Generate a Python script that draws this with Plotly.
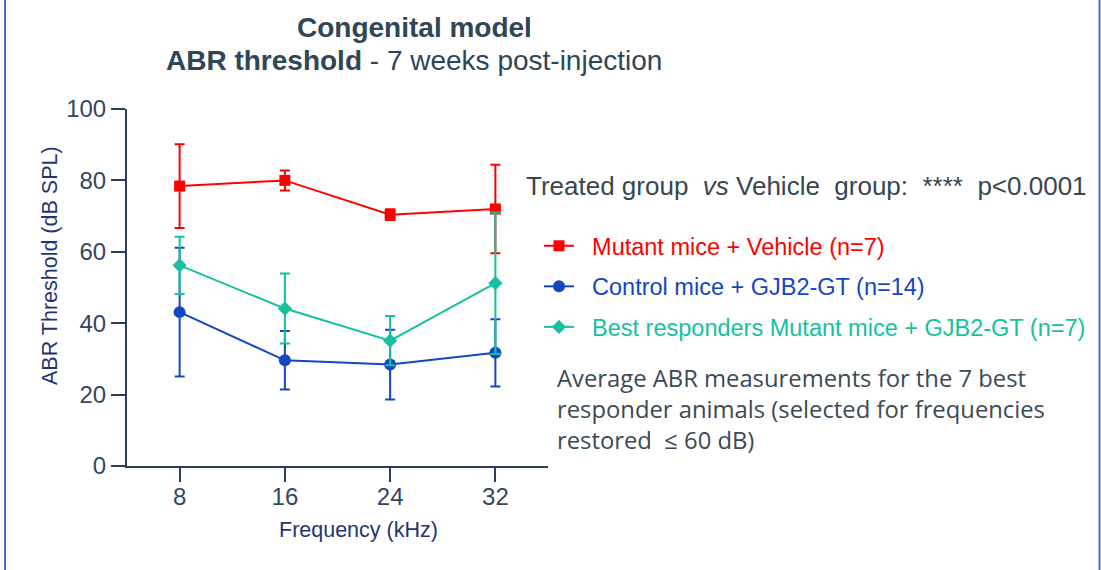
import plotly.graph_objects as go

# ---- data ----
freq_khz = [8, 16, 24, 32]
vehicle_mean = [78.4, 80.0, 70.4, 72.0]
vehicle_sd = [11.7, 2.8, 1.5, 12.4]
control_mean = [43.1, 29.6, 28.4, 31.7]
control_sd = [18.0, 8.2, 9.8, 9.4]
best_mean = [56.2, 44.1, 35.1, 51.2]
best_sd = [8.0, 9.8, 6.9, 19.8]
y_ticks = [0, 20, 40, 60, 80, 100]

names = ["Mutant mice + Vehicle (n=7)",
         "Control mice + GJB2-GT (n=14)",
         "Best responders Mutant mice + GJB2-GT (n=7)"]
colors = ["#ff0000", "#1546c2", "#16c0a0"]
symbols = ["square", "circle", "diamond"]
sizes = [11, 12, 11]

W, H = 1101, 570
L, R, T, B = 127, 0, 109, 104
PW, PH = W - L - R, H - T - B
AXIS_RIGHT = 548  # pixel where the x axis ends


def xp(px):
    return (px - L) / PW


def yp(py):
    return (H - B - py) / PH


fig = go.Figure()
for m, s, n, c, sym, sz in zip([vehicle_mean, control_mean, best_mean],
                               [vehicle_sd, control_sd, best_sd],
                               names, colors, symbols, sizes):
    fig.add_trace(go.Scatter(
        x=freq_khz, y=m, mode="lines+markers",
        name=f"<span style='color:{c}'>\u00a0\u00a0{n}</span>",
        legendgroup=n,
        line=dict(color=c, width=2),
        marker=dict(symbol=sym, size=sz, color=c),
        error_y=dict(type="data", array=s, visible=True, color=c,
                     thickness=2, width=5),
        cliponaxis=False,
    ))

axis_col = "#2c3e5c"
base_font = "Liberation Sans, Arial, sans-serif"
tick_font = dict(family=base_font, size=24, color="#33475f")
fig.update_xaxes(domain=[0, xp(AXIS_RIGHT)],
                 range=[4, 36], tickvals=freq_khz, ticktext=[str(v) for v in freq_khz],
                 showline=True, linecolor=axis_col, linewidth=2, ticks="outside",
                 ticklen=14, tickwidth=2, tickcolor=axis_col, showgrid=False,
                 zeroline=False, tickfont=tick_font, ticklabelstandoff=-6)
fig.update_yaxes(range=[0, 100], tickvals=y_ticks,
                 showline=True, linecolor=axis_col, linewidth=2, ticks="outside",
                 ticklen=14, tickwidth=2, tickcolor=axis_col, showgrid=False,
                 zeroline=False, tickfont=tick_font)

title_font = dict(family=base_font, size=28, color="#2f4656")
axis_title_font = dict(family=base_font, size=21.5, color="#1f3571")
annotations = [
    dict(text="<b>Congenital model</b>", x=xp(414), y=yp(28),
         xanchor="center", yanchor="middle", font=title_font),
    dict(text="<b>ABR threshold</b> - 7 weeks post-injection", x=xp(414), y=yp(60),
         xanchor="center", yanchor="middle", font=title_font),
    dict(text="Treated group  <i>vs</i> Vehicle  group:  ****  p<0.0001",
         x=xp(524), y=yp(186), xanchor="left", yanchor="middle",
         font=dict(family=base_font, size=26, color="#37474f")),
    dict(text="Frequency (kHz)", x=xp(358.5), y=yp(530),
         xanchor="center", yanchor="middle", font=axis_title_font),
    dict(text="ABR Threshold (dB SPL)", x=xp(50), y=yp(266), textangle=-90,
         xanchor="center", yanchor="middle", font=axis_title_font),
    dict(text="Average ABR measurements for the 7 best<br>"
              "responder animals (selected for frequencies<br>"
              "restored  \u2264 60 dB)",
         x=xp(555), y=yp(409), xanchor="left", yanchor="middle", align="left",
         font=dict(family="Open Sans, sans-serif", size=23.8, color="#3b4a54")),
]
for a in annotations:
    a.update(xref="paper", yref="paper", showarrow=False)

shapes = [
    dict(type="line", xref="paper", yref="paper", x0=xp(5), x1=xp(5),
         y0=yp(0), y1=yp(H), line=dict(color="#4472c4", width=2)),
    dict(type="line", xref="paper", yref="paper", x0=xp(1099.5), x1=xp(1099.5),
         y0=yp(0), y1=yp(H), line=dict(color="#4472c4", width=2)),
]

fig.update_layout(
    width=W, height=H,
    margin=dict(l=L, r=R, t=T, b=B, pad=0),
    plot_bgcolor="white", paper_bgcolor="white",
    showlegend=True,
    legend=dict(x=xp(539), y=yp(224), xanchor="left", yanchor="top",
                font=dict(family=base_font, size=23.5),
                bgcolor="rgba(0,0,0,0)", tracegroupgap=7, itemwidth=30),
    annotations=annotations,
    shapes=shapes,
)

fig.write_html("out.html", config={"responsive": False, "displayModeBar": False},
               post_script="document.body.style.margin='0';"
                           "document.body.style.overflow='hidden';")
